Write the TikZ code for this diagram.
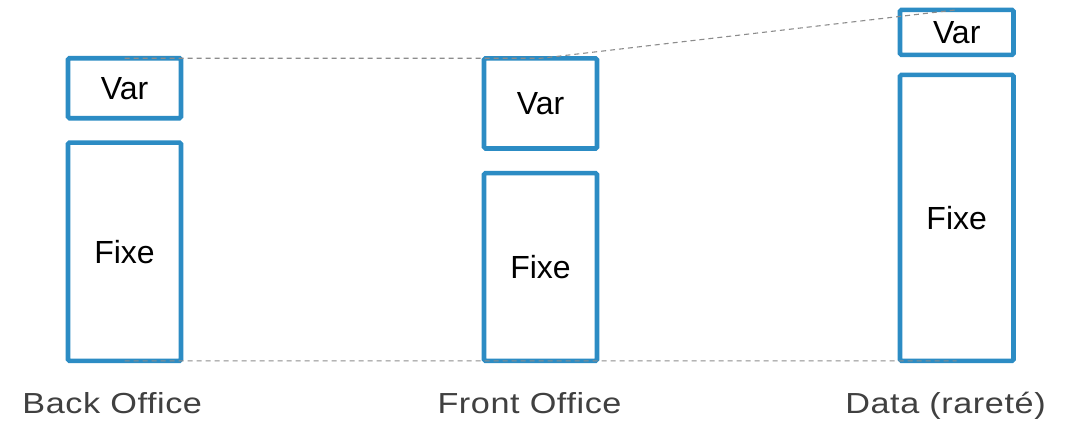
\documentclass[tikz,border=0pt]{standalone}
\usepackage{fontspec}
\setmainfont{Liberation Sans}
\newfontfamily\labelfont[FakeStretch=1.18,LetterSpace=2]{Liberation Sans}
\definecolor{barblue}{RGB}{44,140,196}
\definecolor{guide}{RGB}{140,140,140}
\definecolor{labelgray}{RGB}{64,64,64}

\begin{document}
\begin{tikzpicture}[x=1pt,y=-1pt,
  bar/.style={draw=barblue, line width=4.6pt, rounded corners=1.5pt,
    inner sep=0pt, outer sep=0pt, font=\fontsize{32}{36}\selectfont, text=black},
  guideline/.style={draw=guide, line width=1.1pt, dash pattern=on 5pt off 4pt},
  caption/.style={anchor=base, font=\labelfont\fontsize{29}{34}\selectfont, text=labelgray}]
\useasboundingbox[fill=white] (0,0) rectangle (1076,423);

% Back Office
\node[bar, minimum width=113pt, minimum height=60pt]    (boVar)  at (124.5,88.2)  {Var};
\node[bar, minimum width=113pt, minimum height=218.3pt] (boFixe) at (124.5,251.7) {Fixe};
% Front Office
\node[bar, minimum width=113pt, minimum height=90.2pt]  (foVar)  at (540.5,103.4) {Var};
\node[bar, minimum width=113pt, minimum height=187.8pt] (foFixe) at (540.5,267)   {Fixe};
% Data
\node[bar, minimum width=113.5pt, minimum height=45pt]  (dtVar)  at (956.7,32.3)  {Var};
\node[bar, minimum width=113.5pt, minimum height=286pt] (dtFixe) at (956.7,217.8) {Fixe};

% guide lines
\draw[guideline] (boVar.north) -- (foVar.north) -- (dtVar.north);
\draw[guideline] (boFixe.south) -- (dtFixe.south);

% captions
\node[caption] (boCap) at (112.2,413.3) {Back Office};
\node[caption] (foCap) at (529.5,413.3) {Front Office};
\node[caption] (dtCap) at (945.5,413.3) {Data (raret\'e)};
\end{tikzpicture}
\end{document}
